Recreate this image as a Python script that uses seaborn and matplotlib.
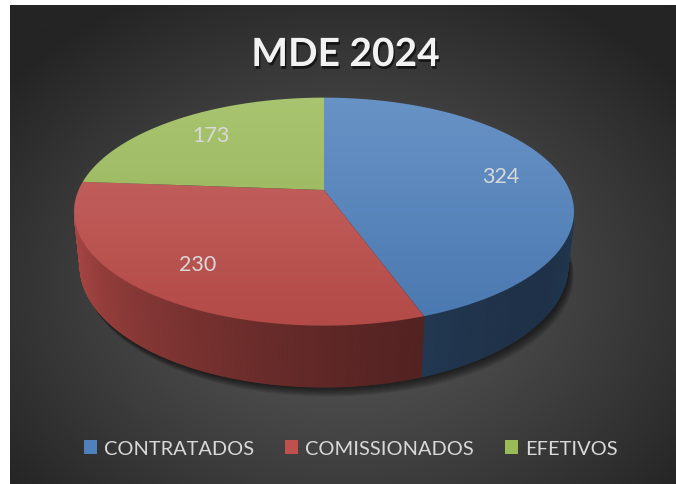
import numpy as np
import matplotlib
matplotlib.use("Agg")
import matplotlib.pyplot as plt
import seaborn as sns
from matplotlib.patches import Polygon, Patch
import matplotlib.patheffects as pe
from matplotlib.colors import to_rgb

# ---------------- data ----------------
categories = ["CONTRATADOS", "COMISSIONADOS", "EFETIVOS"]
values = [324, 230, 173]
title = "MDE 2024"
colors = ["#4f81bd", "#c0504d", "#9bbb59"]

sns.set_theme(style="white")
plt.rcParams['font.family'] = ['Lato', 'DejaVu Sans']

W, H, DPI = 676, 485, 100
fig = plt.figure(figsize=(W / DPI, H / DPI), dpi=DPI, facecolor="white")

# ---------------- background panel (radial gradient) ----------------
bg = fig.add_axes([10 / W, 0, (W - 10) / W, (H - 6) / H])
bg.set_axis_off()
ny, nx = 300, 420
yy, xx = np.mgrid[0:1:ny * 1j, 0:1:nx * 1j]
pw, ph = W - 10, H - 6
px = xx * pw
py = yy * ph
rr = np.sqrt(((px - 335) / 430) ** 2 + ((py - 280) / 330) ** 2)
rr = np.clip(rr, 0, 1)
val = (0x57 - (0x57 - 0x24) * rr ** 1.3) / 255.0
img = np.dstack([val, val, val])
bg.imshow(img, extent=[0, 1, 1, 0], aspect="auto", interpolation="bilinear")
bg.set_xlim(0, 1)
bg.set_ylim(1, 0)

# ---------------- 3D projection ----------------
ELEV = np.deg2rad(26.6)
DIST = 4.71
THICK = 0.248
CE, SE = np.cos(ELEV), np.sin(ELEV)
SCALE = 1156.0
CX, CY = 324.0, 191.0


def proj(x, y, z):
    depth = DIST + y * CE - z * SE
    return x / depth, (y * SE + z * CE) / depth


ax = fig.add_axes([0, 0, 1, 1])
ax.set_axis_off()
ax.patch.set_alpha(0)
ax.set_xlim((0 - CX) / SCALE, (W - CX) / SCALE)
ax.set_ylim((CY - H) / SCALE, CY / SCALE)

vals = np.array(values, dtype=float)
frac = vals / vals.sum()
cum = np.concatenate([[0], np.cumsum(frac)])
bounds = 90 - 360 * cum  # degrees, clockwise from top

# ---------------- shadow ----------------
tt = np.deg2rad(np.linspace(0, 360, 400))
sx, sy = proj(np.cos(tt), np.sin(tt), -THICK)
for k in range(10):
    off = (1.5 + k * 0.9) / SCALE
    ax.add_patch(Polygon(np.column_stack([sx + off * 0.6, sy - off]),
                         closed=True, facecolor="black", edgecolor="none",
                         alpha=0.07, zorder=1))

# ---------------- side walls ----------------
lim = np.rad2deg(np.arcsin(1.0 / (DIST * CE)))
vis_lo, vis_hi = -180 + lim, -lim


def side_factor(tdeg):
    return 0.70 - 0.3125 * np.cos(np.deg2rad(tdeg + 40))


for i in range(len(values)):
    a0, a1 = bounds[i], bounds[i + 1]
    lo, hi = min(a0, a1), max(a0, a1)
    base = np.array(to_rgb(colors[i]))
    for shift in (-360, 0, 360):
        l, h = lo + shift, hi + shift
        s0, s1 = max(l, vis_lo), min(h, vis_hi)
        if s1 <= s0:
            continue
        n = max(2, int((s1 - s0) / 0.5) + 1)
        ts = np.linspace(s0, s1, n)
        for j in range(n - 1):
            ta, tb = np.deg2rad(ts[j]), np.deg2rad(ts[j + 1])
            p1 = proj(np.cos(ta), np.sin(ta), 0)
            p2 = proj(np.cos(tb), np.sin(tb), 0)
            p3 = proj(np.cos(tb), np.sin(tb), -THICK)
            p4 = proj(np.cos(ta), np.sin(ta), -THICK)
            c = np.clip(base * side_factor(0.5 * (ts[j] + ts[j + 1])), 0, 1)
            ax.add_patch(Polygon([p1, p2, p3, p4], closed=True, facecolor=c,
                                 edgecolor=c, linewidth=0.6, zorder=3))

# ---------------- top face ----------------
up_min = proj(0, -1, 0)[1]
up_max = proj(0, 1, 0)[1]
gy = np.linspace(up_min, up_max, 200)
gnorm = (gy - up_min) / (up_max - up_min)
xl = ax.get_xlim()
for i in range(len(values)):
    a0, a1 = bounds[i], bounds[i + 1]
    ts = np.deg2rad(np.linspace(a0, a1, 300))
    xs, ys = proj(np.cos(ts), np.sin(ts), 0)
    pts = np.vstack([[0, 0], np.column_stack([xs, ys])])
    poly = Polygon(pts, closed=True, facecolor="none", edgecolor="none", zorder=4)
    ax.add_patch(poly)
    base = np.array(to_rgb(colors[i]))
    front = base * 0.93
    back = base + (1 - base) * 0.14
    grad = front[None, :] * (1 - gnorm[:, None]) + back[None, :] * gnorm[:, None]
    gimg = np.repeat(grad[:, None, :], 2, axis=1)
    im = ax.imshow(gimg, extent=[xl[0], xl[1], up_min, up_max], origin="lower",
                   aspect="auto", interpolation="bilinear", zorder=4)
    im.set_clip_path(poly)

ax.set_xlim((0 - CX) / SCALE, (W - CX) / SCALE)
ax.set_ylim((CY - H) / SCALE, CY / SCALE)

# ---------------- data labels ----------------
for i, v in enumerate(values):
    mid = np.deg2rad(0.5 * (bounds[i] + bounds[i + 1]))
    lx, ly = proj(0.75 * np.cos(mid), 0.75 * np.sin(mid), 0)
    ax.text(lx, ly, str(v), ha="center", va="center", fontsize=15.5,
            color="#d9d9d9", zorder=6)

# ---------------- title ----------------
fig.text(345.5 / W, 1 - 67 / H, title, ha="center", va="baseline",
         fontsize=28, fontweight="bold", color="#f2f2f2",
         path_effects=[pe.withSimplePatchShadow(offset=(1, -2), shadow_rgbFace="black", alpha=0.6)])

# ---------------- legend ----------------
handles = [Patch(facecolor=c, edgecolor="none") for c in colors]
fs = 14.4
leg = fig.legend(handles, categories, loc="center", bbox_to_anchor=(351 / W, 1 - 449.5 / H),
                 ncol=3, frameon=False, fontsize=fs, labelcolor="#d9d9d9",
                 handlelength=0.62, handleheight=0.68, handletextpad=0.38,
                 columnspacing=1.55, borderpad=0)

fig.savefig("out.png", dpi=DPI, facecolor="white")
